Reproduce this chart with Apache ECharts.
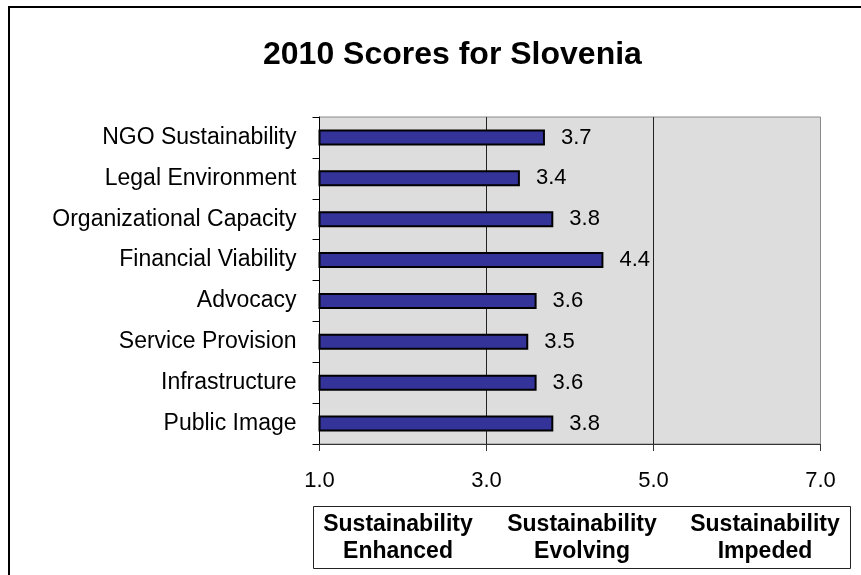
<!DOCTYPE html>
<html>
<head>
<meta charset="utf-8">
<script src="https://cdn.jsdelivr.net/npm/echarts@6/dist/echarts.min.js"></script>
<style>
html,body{margin:0;padding:0;background:#fff;}
#chart{width:861px;height:575px;}
</style>
</head>
<body>
<div id="chart"></div>
<script>
const titleText = '2010 Scores for Slovenia';
const categories = ['NGO Sustainability','Legal Environment','Organizational Capacity','Financial Viability','Advocacy','Service Provision','Infrastructure','Public Image'];
const scores = [3.7, 3.4, 3.8, 4.4, 3.6, 3.5, 3.6, 3.8];
const xTicks = [1.0, 3.0, 5.0, 7.0];
const zoneLabels = ['Sustainability\nEnhanced', 'Sustainability\nEvolving', 'Sustainability\nImpeded'];

const FONT = '"Liberation Sans", Arial, sans-serif';
const chart = echarts.init(document.getElementById('chart'), null, {renderer: 'canvas'});

const zoneCenters = [398, 582, 765];
const graphics = [
  {type: 'rect', shape: {x: 9, y: 7, width: 900, height: 620}, style: {fill: 'none', stroke: '#000', lineWidth: 2}, silent: true},
  {type: 'rect', shape: {x: 313.5, y: 506.5, width: 537, height: 62}, style: {fill: '#fff', stroke: '#222', lineWidth: 1}, silent: true}
];
zoneLabels.forEach((t, i) => {
  graphics.push({
    type: 'text', x: zoneCenters[i], y: 538,
    style: {text: t, font: 'bold 23px ' + FONT, fill: '#000', align: 'center', verticalAlign: 'middle', lineHeight: 27},
    silent: true
  });
});

chart.setOption({
  animation: false,
  title: {
    text: titleText, left: 263, top: 39, padding: 0,
    textStyle: {fontFamily: FONT, fontWeight: 'bold', fontSize: 32, color: '#000'}
  },
  grid: {
    left: 319.5, right: 40.5, top: 117, bottom: 131,
    show: true, backgroundColor: '#dddddd', borderColor: '#8a8a8a', borderWidth: 1
  },
  xAxis: {
    type: 'value', min: xTicks[0], max: xTicks[xTicks.length - 1], interval: 2,
    axisLine: {show: true, lineStyle: {color: '#333', width: 1}},
    axisTick: {show: true, inside: false, length: 7, lineStyle: {color: '#333'}},
    axisLabel: {margin: 26, fontFamily: FONT, fontSize: 22, color: '#000', formatter: v => v.toFixed(1)},
    splitLine: {show: true, showMinLine: false, showMaxLine: false, lineStyle: {color: '#222', width: 1}}
  },
  yAxis: {
    type: 'category', data: categories, inverse: true,
    axisLine: {show: true, lineStyle: {color: '#000', width: 1}},
    axisTick: {show: true, inside: false, length: 7, alignWithLabel: false, lineStyle: {color: '#000'}},
    axisLabel: {margin: 23, fontFamily: FONT, fontSize: 23, color: '#000'},
    splitLine: {show: false}
  },
  series: [{
    type: 'bar', data: scores, barWidth: 16, clip: true,
    itemStyle: {color: '#333399', borderColor: '#000', borderWidth: 2},
    label: {show: true, position: 'right', distance: 16, fontFamily: FONT, fontSize: 22, color: '#000', formatter: p => p.value.toFixed(1)}
  }],
  graphic: graphics
});
</script>
</body>
</html>
